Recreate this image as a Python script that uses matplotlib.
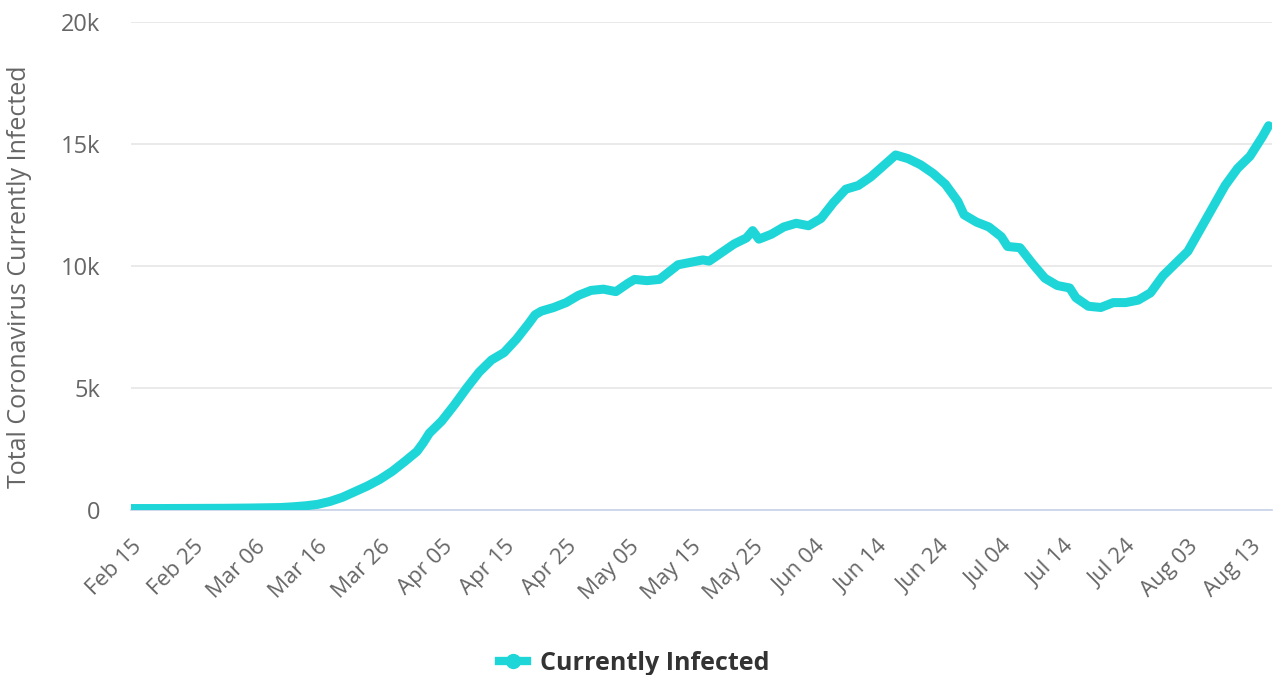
import pandas as pd
import matplotlib
matplotlib.use("Agg")
import matplotlib.pyplot as plt
import matplotlib.dates as mdates
from matplotlib.lines import Line2D

plt.rcParams["font.family"] = ["Open Sans", "DejaVu Sans"]

# Values (active cases, 2020)
dates = [
    "2020-02-15", "2020-02-20", "2020-02-25", "2020-03-01", "2020-03-05",
    "2020-03-10", "2020-03-12", "2020-03-14", "2020-03-16", "2020-03-18",
    "2020-03-20", "2020-03-22", "2020-03-24", "2020-03-26", "2020-03-28",
    "2020-03-30", "2020-04-01", "2020-04-02", "2020-04-03", "2020-04-04",
    "2020-04-05", "2020-04-07", "2020-04-09", "2020-04-11", "2020-04-13",
    "2020-04-15", "2020-04-17", "2020-04-19", "2020-04-20", "2020-04-21",
    "2020-04-23", "2020-04-25", "2020-04-27", "2020-04-29", "2020-05-01",
    "2020-05-03", "2020-05-05", "2020-05-06", "2020-05-08", "2020-05-10",
    "2020-05-11", "2020-05-13", "2020-05-15", "2020-05-17", "2020-05-18",
    "2020-05-20", "2020-05-22", "2020-05-24", "2020-05-25", "2020-05-26",
    "2020-05-28", "2020-05-30", "2020-06-01", "2020-06-03", "2020-06-05",
    "2020-06-07", "2020-06-09", "2020-06-11", "2020-06-13", "2020-06-15",
    "2020-06-17", "2020-06-19", "2020-06-21", "2020-06-23", "2020-06-25",
    "2020-06-27", "2020-06-28", "2020-06-30", "2020-07-02", "2020-07-04",
    "2020-07-05", "2020-07-07", "2020-07-09", "2020-07-11", "2020-07-13",
    "2020-07-15", "2020-07-16", "2020-07-18", "2020-07-20", "2020-07-22",
    "2020-07-24", "2020-07-26", "2020-07-28", "2020-07-30", "2020-08-01",
    "2020-08-03", "2020-08-05", "2020-08-07", "2020-08-09", "2020-08-11",
    "2020-08-13", "2020-08-15", "2020-08-16",
]
infected = [
    60, 60, 65, 70, 80,
    100, 130, 170, 230, 350,
    520, 750, 980, 1250, 1580,
    1980, 2400, 2750, 3150, 3400,
    3650, 4300, 5000, 5650, 6150,
    6450, 7000, 7650, 8000, 8150,
    8300, 8500, 8800, 9000, 9050,
    8950, 9300, 9450, 9400, 9450,
    9650, 10050, 10150, 10250, 10200,
    10550, 10900, 11150, 11450, 11100,
    11300, 11600, 11750, 11650, 11950,
    12600, 13150, 13300, 13650, 14100,
    14550, 14400, 14150, 13800, 13350,
    12650, 12100, 11800, 11600, 11200,
    10800, 10750, 10100, 9500, 9200,
    9100, 8700, 8350, 8300, 8500,
    8500, 8600, 8900, 9600, 10100,
    10600, 11500, 12400, 13300, 14000,
    14500, 15300, 15750,
]
series_name = "Currently Infected"
y_label = "Total Coronavirus Currently Infected"
y_ticks = [0, 5000, 10000, 15000, 20000]
y_tick_labels = ["0", "5k", "10k", "15k", "20k"]

line_color = "#1ed6d8"
grey = "#666666"

x = pd.to_datetime(dates)
start = pd.Timestamp("2020-02-15")
end = pd.Timestamp("2020-08-16") + pd.Timedelta(hours=14)
x_ticks = pd.date_range("2020-02-15", "2020-08-13", freq="10D")

W, H = 1274, 675
fig = plt.figure(figsize=(W / 100, H / 100), dpi=100)
px_day = (1250 - 131) / 180.0
ax_w = (end - start) / pd.Timedelta(days=1) * px_day
ax = fig.add_axes([131 / W, (H - 510) / H, ax_w / W, (510 - 22) / H])

ax.plot(x, infected, color=line_color, lw=6.5, solid_capstyle="round",
        solid_joinstyle="round", zorder=3)

ax.set_xlim(start, end)
ax.set_ylim(0, 20000)
ax.set_yticks(y_ticks)
ax.set_yticklabels(y_tick_labels)
ax.set_xticks(x_ticks)
ax.xaxis.set_major_formatter(mdates.DateFormatter("%b %d"))

ax.grid(axis="y", color="#e6e6e6", lw=1.2)
ax.set_axisbelow(True)
for s in ["top", "right", "left"]:
    ax.spines[s].set_visible(False)
ax.spines["bottom"].set_color("#ccd6eb")
ax.spines["bottom"].set_linewidth(1.3)

ax.tick_params(axis="y", length=0, pad=22, labelsize=17, labelcolor=grey)
ax.tick_params(axis="x", length=0, pad=19, labelsize=16, labelcolor=grey)
for lbl in ax.get_xticklabels():
    lbl.set_rotation(45)
    lbl.set_ha("right")
    lbl.set_rotation_mode("anchor")

fig.text(20 / W, 1 - 277 / H, y_label, rotation=90, ha="center", va="center",
         fontsize=18, color=grey)

handle = Line2D([], [], color=line_color, lw=6, marker="o", markersize=10)
fig.legend([handle], [series_name], loc="center", bbox_to_anchor=(634 / W, 1 - 663 / H),
           frameon=False, handlelength=1.15, handletextpad=0.5,
           prop={"weight": "bold", "size": 18})
for t in fig.legends[0].get_texts():
    t.set_color("#333333")

fig.savefig("out.png", dpi=100)
